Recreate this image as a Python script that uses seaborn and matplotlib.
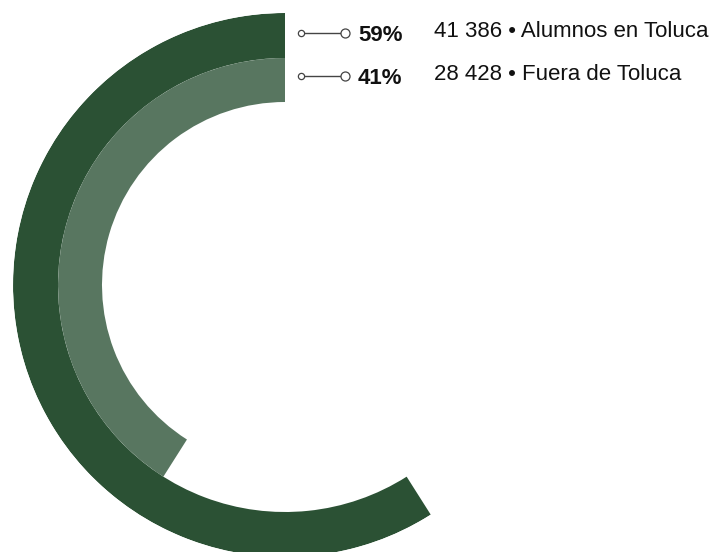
import numpy as np
import seaborn as sns
import matplotlib.pyplot as plt

# datos
categorias = ["Alumnos en Toluca", "Fuera de Toluca"]
alumnos = [41386, 28428]
porcentajes = [59, 41]
colores = ["#2b5134", "#587660"]

sns.set_theme(style="white")
plt.rcParams["font.family"] = ["Liberation Sans", "DejaVu Sans"]

W, H = 721, 552
fig = plt.figure(figsize=(W / 100, H / 100), dpi=100)

# anillos: centro (285, 285) px, radio exterior 272 px
cx, cy, R = 285, 285, 272
ax = fig.add_axes([(cx - R) / W, (H - cy - R) / H, 2 * R / W, 2 * R / H],
                  projection="polar")
ax.set_theta_zero_location("N")
ax.set_theta_direction(1)
ax.set_ylim(0, R)
ax.axis("off")

radios = [(227, 272), (183, 227)]
for pct, col, (r0, r1) in zip(porcentajes, colores, radios):
    ang = np.deg2rad(pct / 100 * 360)
    ax.bar(ang / 2, r1 - r0, width=ang, bottom=r0, color=col,
           edgecolor="none", linewidth=0)

# etiquetas con conector
filas_y = [33, 76]
for y, pct, n, cat in zip(filas_y, porcentajes, alumnos, categorias):
    fy = 1 - y / H
    fig.add_artist(plt.Line2D([301 / W, 345 / W], [fy, fy], color="#444444",
                              lw=1, transform=fig.transFigure))
    fig.add_artist(plt.Line2D([301 / W], [fy], marker="o", ms=4.5, mfc="white",
                              mec="#444444", mew=0.9, transform=fig.transFigure))
    fig.add_artist(plt.Line2D([345 / W], [fy], marker="o", ms=6.5, mfc="white",
                              mec="#444444", mew=0.9, transform=fig.transFigure))
    fig.text(358 / W, fy - 0.004, f"{pct}%", fontsize=16, fontweight="bold",
             color="#111111", va="center", ha="left")
    txt = f"{n:,}".replace(",", " ") + " \u2022 " + cat
    fig.text(434 / W, fy + 0.002, txt, fontsize=16, color="#111111",
             va="center", ha="left")

fig.savefig("out.png", dpi=100, facecolor="white")
